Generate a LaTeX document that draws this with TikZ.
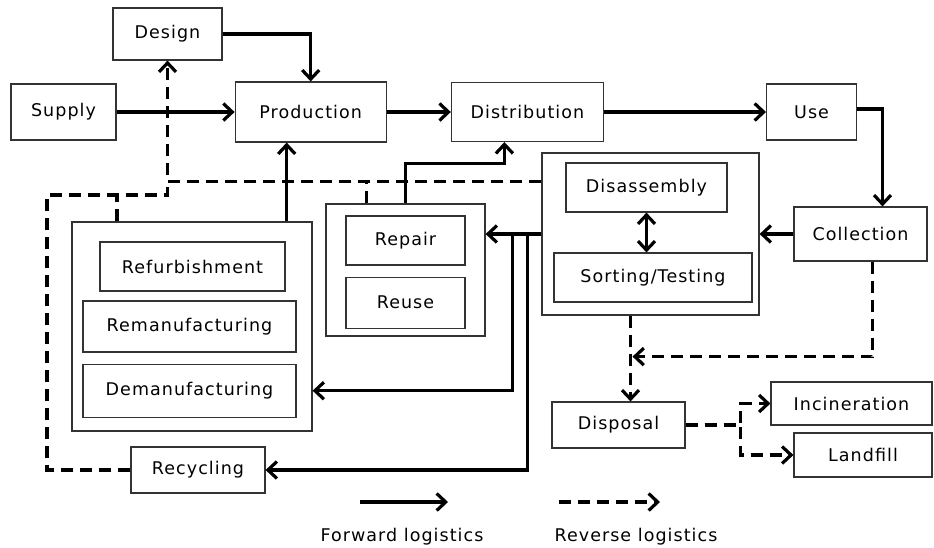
\documentclass[tikz,border=0pt]{standalone}
\usepackage{fontspec}
\newfontfamily\boxfont{DejaVu Sans}[LetterSpace=6]
\usetikzlibrary{arrows.meta,positioning,calc}
\tikzset{
  box/.style={draw=black!80, line width=1.2pt, align=center, inner sep=0pt, font=\boxfont\fontsize{17.5}{20}\selectfont},
  groupbox/.style={draw=black!80, line width=1.2pt, inner sep=0pt},
  legendtext/.style={inner sep=0pt, font=\boxfont\fontsize{17.5}{20}\selectfont},
  arrow/.style={-{Straight Barb[length=9pt,width=17pt,line width=3.2pt]}, line width=3.5pt},
  dashedarrow/.style={-{Straight Barb[length=9pt,width=17pt,line width=3.2pt]}, line width=3.5pt, dash pattern=on 12pt off 7pt},
  dashedline/.style={line width=3.5pt, dash pattern=on 12pt off 7pt},
  twoway/.style={{Straight Barb[length=9pt,width=17pt,line width=3.2pt]}-{Straight Barb[length=9pt,width=17pt,line width=3.2pt]}, line width=3.5pt}
}
\begin{document}
\begin{tikzpicture}[x=1pt, y=1pt]
\useasboundingbox (0,0) rectangle (934,-547);
% forward chain
\node[box, minimum width=105pt, minimum height=56pt] (supply) at (63.5,-112) {Supply};
\node[box, minimum width=151pt, minimum height=60pt, right=118pt of supply] (production) {Production};
\node[box, minimum width=152pt, minimum height=59pt, right=64pt of production] (distribution) {Distribution};
\node[box, minimum width=90pt, minimum height=56pt, right=162pt of distribution] (use) {Use};
\node[box, minimum width=109pt, minimum height=52pt] (design) at (167.5,-34) {Design};
\node[box, minimum width=133pt, minimum height=54pt] (coll) at (860.5,-234) {Collection};
% sorting group
\node[groupbox, minimum width=217pt, minimum height=162pt] (grpD) at (650.5,-234) {};
\node[box, minimum width=161pt, minimum height=49pt] (disas) at (646.5,-187.5) {Disassembly};
\node[box, minimum width=198pt, minimum height=49pt] (sort) at (653,-277.5) {Sorting/Testing};
% repair group
\node[groupbox, minimum width=159pt, minimum height=132pt] (grpR) at (405.5,-270) {};
\node[box, minimum width=119pt, minimum height=49pt] (repair) at (405.5,-240.5) {Repair};
\node[box, minimum width=119pt, minimum height=51pt, below=11pt of repair] (reuse) {Reuse};
% recovery group
\node[groupbox, minimum width=240pt, minimum height=209pt] (grpL) at (192,-326.5) {};
\node[box, minimum width=185pt, minimum height=49pt] (refurb) at (192.5,-266.5) {Refurbishment};
\node[box, minimum width=213pt, minimum height=51pt] (reman) at (189.5,-326.5) {Remanufacturing};
\node[box, minimum width=213pt, minimum height=53pt, below=11pt of reman] (demanuf) {Demanufacturing};
\node[box, minimum width=134pt, minimum height=46pt] (recyc) at (198,-470) {Recycling};
% end of life
\node[box, minimum width=133pt, minimum height=46pt] (disposal) at (618.5,-425) {Disposal};
\node[box, minimum width=161pt, minimum height=43pt] (incin) at (851.5,-403.5) {Incineration};
\node[box, minimum width=138pt, minimum height=44pt] (landfill) at (863,-455) {Landfill};
% legend
\node[legendtext] (fwdtxt) at (402,-537) {Forward logistics};
\node[legendtext] (revtxt) at (636,-537) {Reverse logistics};
\coordinate (fwdA) at (360,-502);
\coordinate (fwdB) at (448,-502);
\coordinate (revA) at (559,-502);
\coordinate (revB) at (660,-502);
\coordinate (dmain) at ([yshift=-29pt]grpD.north west);
\coordinate (dcorner) at (47,-195);
\coordinate (dmeet) at ($(grpD.south)+(-18,-41)$);

% forward logistics
\draw[arrow] (supply) -- (production);
\draw[arrow] (design) -| (production);
\draw[arrow] (production) -- (distribution);
\draw[arrow] (distribution) -- (use);
\draw[arrow] ([yshift=3pt]use.east) -| ($(coll.north)+(22,0)$);
\draw[arrow] (coll) -- (grpD);
\draw[twoway] (disas.south) -- (disas.south |- sort.north);
\draw[arrow] (grpD.west) -- (grpD.west -| grpR.east);
\draw[arrow] (grpD.west) -- ++(-29,0) |- (grpL.east |- demanuf);
\draw[arrow] (grpD.west) -- ++(-14,0) |- (recyc.east);
\draw[arrow] ([xshift=-24pt]production.south |- grpL.north) -- ([xshift=-24pt]production.south);
\draw[arrow] (grpR.north) -- ++(0,40) -| ([xshift=-23pt]distribution.south);

% reverse logistics
\draw[dashedarrow] (dmain) -| (design);
\draw[dashedline] ([xshift=-39pt]grpR.north) -- ([xshift=-39pt]grpR.north |- dmain);
\draw[dashedline] (recyc.west) -| (dcorner) -| (design.south |- dmain);
\draw[dashedline] ([xshift=-75pt]grpL.north) -- ([xshift=-75pt]grpL.north |- dcorner);
\draw[dashedarrow] ([xshift=-20pt]grpD.south) -- ([xshift=-20pt]grpD.south |- disposal.north);
\draw[dashedarrow] ([xshift=12pt]coll.south) |- (dmeet);
\draw[dashedarrow] (disposal.east) -- ++(55,0) |- (incin);
\draw[dashedarrow] (disposal.east) -- ++(55,0) |- (landfill);

% legend arrows
\draw[arrow] (fwdA) -- (fwdB);
\draw[dashedarrow] (revA) -- (revB);
\end{tikzpicture}
\end{document}
